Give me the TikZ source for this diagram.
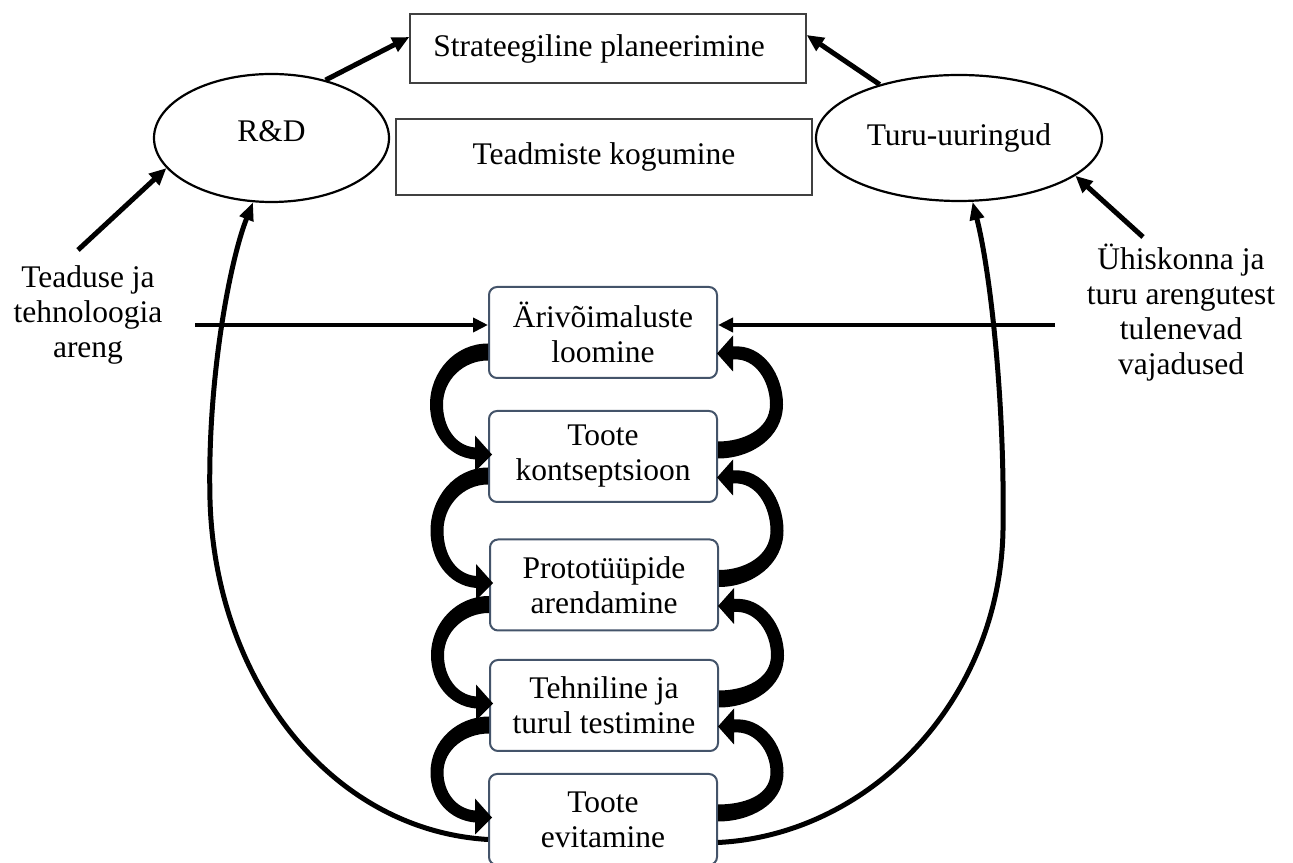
\documentclass[tikz,border=0pt]{standalone}
\usepackage{fontspec}
\setmainfont{Liberation Serif}
\usetikzlibrary{arrows.meta,calc,shapes.geometric}
\definecolor{stageedge}{RGB}{68,84,106}
\definecolor{planedge}{RGB}{64,64,64}

% thick tapered curl on the left side, from stage #1 down to stage #2
\newcommand\leftcurl[2]{%
  \fill[curl] ($(#1.west)+(0,-11)$)
    to[out=180,in=90] ($(#1.west)!0.5!(#2.west)+(-58,-10)$)
    to[out=270,in=175] ($(#2.west)+(-13,-3)$)
    -- ($(#2.west)+(-13,-15)$)
    -- ($(#2.west)+(4,2)$)
    -- ($(#2.west)+(-13,21)$)
    -- ($(#2.west)+(-13,9)$)
    to[out=175,in=270] ($(#1.west)!0.5!(#2.west)+(-45,-10)$)
    to[out=90,in=180] ($(#1.west)+(0,-28)$)
    -- cycle;}

% thick tapered curl on the right side, from stage #1 up to stage #2
\newcommand\rightcurl[2]{%
  \fill[curl] ($(#1.east)+(0,-2)$)
    to[out=0,in=270] ($(#1.east)!0.5!(#2.east)+(65,-10)$)
    to[out=90,in=5] ($(#2.east)+(15,-14)$)
    -- ($(#2.east)+(15,-3)$)
    -- ($(#2.east)+(-1,-21)$)
    -- ($(#2.east)+(15,-39)$)
    -- ($(#2.east)+(15,-27)$)
    to[out=5,in=90] ($(#1.east)!0.5!(#2.east)+(52,-10)$)
    to[out=270,in=0] ($(#1.east)+(0,15)$)
    -- cycle;}

\begin{document}
\begin{tikzpicture}[x=1pt,y=1pt,
  every node/.style={font=\fontsize{31.5}{35}\selectfont},
  planbox/.style={draw=planedge,line width=1.3pt,inner sep=0pt},
  oval/.style={draw=black,ellipse,line width=2.2pt,inner sep=0pt},
  stage/.style={draw=stageedge,line width=2pt,rounded corners=8pt,fill=white,
    minimum width=228,minimum height=91,align=center,inner sep=0pt},
  side/.style={align=center,inner sep=0pt},
  curl/.style={fill=black},
  link/.style={line width=5pt,-{Triangle[length=17pt,width=15pt]}},
  feed/.style={line width=4.5pt,-{Triangle[length=15pt,width=14pt]}},
  loop/.style={line width=5pt,-{Triangle[length=18pt,width=14pt]}}]

\useasboundingbox (0,0) rectangle (1293,862);

% upper level
\node[planbox,minimum width=396,minimum height=69] (strat) at (608,813.5)
  {\hspace*{-18pt}Strateegiline planeerimine};
\node[planbox,minimum width=416,minimum height=76] (know) at (604,705)
  {Teadmiste kogumine};
\node[oval,minimum width=235,minimum height=128] (rd) at (271.5,724)
  {\raisebox{13pt}{R\&D}};
\node[oval,minimum width=286,minimum height=126] (turu) at (959,724)
  {Turu-uuringud};

% development stages
\node[stage] (s1) at (603,529.5) {Ärivõimaluste\\loomine};
\node[stage] (s2) at (603,405.5) {Toote\\kontseptsioon};
\node[stage] (s3) at (604,277) {Prototüüpide\\arendamine};
\node[stage] (s4) at (604,156.5) {Tehniline ja\\turul testimine};
\node[stage] (s5) at (603,42.5) {Toote\\evitamine};

% outside drivers
\node[side] (sci) at (88,547) {Teaduse ja\\tehnoloogia\\areng};
\node[side] (soc) at (1181,549) {Ühiskonna ja\\turu arengutest\\tulenevad\\vajadused};

\coordinate (scitail) at (78,612);
\coordinate (soctail) at (1143,625);
\coordinate (scifeed) at (195,537);
\coordinate (socfeed) at (1055,537);

% straight arrows
\draw[link] (rd.47) -- ($(strat.west)+(0,11.5)$);
\draw[link] (turu.146) -- ($(strat.east)+(0,13.5)$);
\draw[link] (scitail) -- (rd.196);
\draw[link] (soctail) -- (turu.-18);
\draw[feed] (scifeed) -- (scifeed -| s1.west);
\draw[feed] (socfeed) -- (socfeed -| s1.east);

% long feedback curves from the last stage
\draw[loop] ($(s5.west)+(0,-20)$) .. controls (330,32) and (215,182) .. (210,362)
  .. controls (207,482) and (230,602) .. (rd.254);
\draw[loop] ($(s5.east)+(0,-23)$) .. controls (870,27) and (1000,162) .. (1003,332)
  .. controls (1005,462) and (990,592) .. (turu.282);

% iteration between neighbouring stages
\leftcurl{s1}{s2}
\leftcurl{s2}{s3}
\leftcurl{s3}{s4}
\leftcurl{s4}{s5}
\rightcurl{s2}{s1}
\rightcurl{s3}{s2}
\rightcurl{s4}{s3}
\rightcurl{s5}{s4}

\end{tikzpicture}
\end{document}
